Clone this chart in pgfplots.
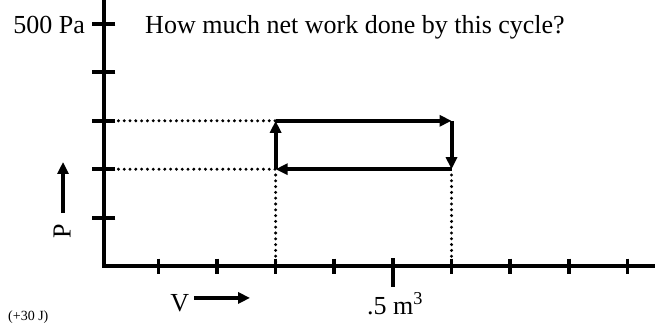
\documentclass[border=0pt]{standalone}
\usepackage{pgfplots}
\pgfplotsset{compat=1.18}
\usepackage{fontspec}
\setmainfont{Liberation Serif}
\usetikzlibrary{arrows.meta}
\begin{document}
\begin{tikzpicture}
\begin{axis}[
  scale only axis, width=551pt, height=266pt,
  xmin=0.0073, xmax=0.947, ymin=0, ymax=549.6,
  axis lines*=left,
  axis line style={line width=4pt, line cap=rect, black},
  xtick=\empty, ytick=\empty,
  clip=false,
]
% y ticks
\addplot[black, only marks, mark=-, mark size=11.5pt, mark options={line width=4pt}]
  coordinates {(0.0073,100)(0.0073,200)(0.0073,300)(0.0073,400)(0.0073,500)};
% x ticks
\addplot[black, only marks, mark=|, mark size=7.5pt, mark options={line width=3.6pt}]
  coordinates {(0.1,0)(0.2,0)(0.3,0)(0.4,0)(0.5,0)(0.6,0)(0.7,0)(0.8,0)(0.9,0)};
\addplot[black, line width=4pt] coordinates {(0.5,16.5)(0.5,-43.4)};
% dotted guides
\addplot[black, line width=3.3pt, line cap=round, dash pattern=on 0pt off 5.8pt]
  coordinates {(0.022,300)(0.3,300)};
\addplot[black, line width=3.3pt, line cap=round, dash pattern=on 0pt off 5.8pt]
  coordinates {(0.022,200)(0.3,200)};
\addplot[black, line width=3.3pt, line cap=round, dash pattern=on 0pt off 5.8pt]
  coordinates {(0.3,188)(0.3,0)};
\addplot[black, line width=3.3pt, line cap=round, dash pattern=on 0pt off 5.8pt]
  coordinates {(0.6,188)(0.6,0)};
% cycle
\addplot[black, line width=4pt, -{Triangle[length=12pt,width=11pt]}]
  coordinates {(0.3,200)(0.3,300)};
\addplot[black, line width=4pt, -{Triangle[length=12pt,width=11pt]}]
  coordinates {(0.3,300)(0.6,300)};
\addplot[black, line width=4pt, -{Triangle[length=12pt,width=11pt]}]
  coordinates {(0.6,300)(0.6,200)};
\addplot[black, line width=4pt, -{Triangle[length=12pt,width=11pt]}]
  coordinates {(0.6,200)(0.3,200)};
% axis-label arrows
\addplot[black, line width=4pt, -{Triangle[length=12pt,width=11pt]}]
  coordinates {(0.1608,-66)(0.2564,-66)};
\addplot[black, line width=4pt, -{Triangle[length=12pt,width=11pt]}]
  coordinates {(-0.0626,109.5)(-0.0626,214.9)};
% texts
\node[anchor=base west, inner sep=0pt, font=\fontsize{26}{30}\selectfont] at (axis cs:0.0773,481) {How much net work done by this cycle?};
\node[anchor=base east, inner sep=0pt, font=\fontsize{26}{30}\selectfont] at (axis cs:-0.0251,481) {500 Pa};
\node[anchor=base west, inner sep=0pt, font=\fontsize{26}{30}\selectfont] at (axis cs:0.4556,-99.2) {.5 m\textsuperscript{3}};
\node[anchor=base west, inner sep=0pt, font=\fontsize{26}{30}\selectfont] at (axis cs:0.120,-95) {V};
\node[anchor=center, inner sep=0pt, rotate=90, font=\fontsize{26}{30}\selectfont] at (axis cs:-0.0643,72.3) {P};
\node[anchor=south west, inner sep=0pt, font=\fontsize{14}{16}\selectfont] at (axis cs:-0.1564,-118.5) {(+30 J)};
\end{axis}
\pgfresetboundingbox
\path (-104pt,-58pt) rectangle (551pt,266pt);
\end{tikzpicture}
\end{document}
